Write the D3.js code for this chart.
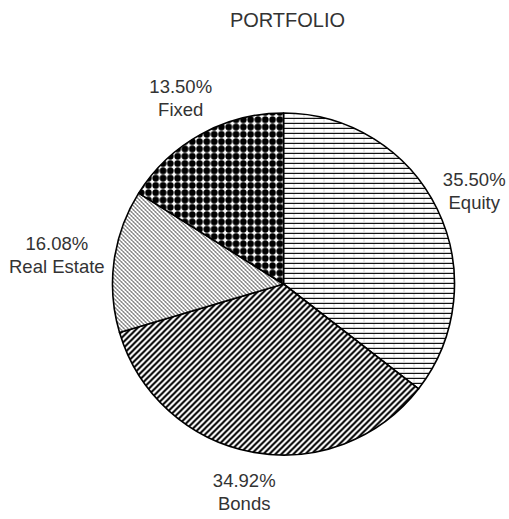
<!DOCTYPE html>
<html>
<head>
<meta charset="utf-8">
<script src="https://cdn.jsdelivr.net/npm/d3@7"></script>
<style>
  html, body { margin: 0; padding: 0; background: #fff; }
  svg { display: block; }
  text { font-family: "Liberation Sans", Arial, sans-serif; fill: #333; }
</style>
</head>
<body>
<svg id="chart" width="509" height="519"></svg>
<script>
const title = "PORTFOLIO";
const categories = ["Equity", "Bonds", "Real Estate", "Fixed"];
// slice sizes as drawn in the reference picture
const sliceValues = [35.50, 34.92, 13.50, 16.08];
// percentage texts as printed on the reference labels
const labelPercents = ["35.50%", "34.92%", "16.08%", "13.50%"];
const patternIds = ["pEquity", "pBonds", "pReal", "pFixed"];

const W = 509, H = 519;
const cx = 283.5, cy = 284, radius = 171;
const svg = d3.select("#chart");
const defs = svg.append("defs");

// Equity: horizontal lines with faint vertical grid
{
  const p = defs.append("pattern").attr("id", "pEquity").attr("patternUnits", "userSpaceOnUse")
    .attr("width", 10).attr("height", 5);
  p.append("rect").attr("width", 10).attr("height", 5).attr("fill", "#fff");
  p.append("line").attr("x1", 0.5).attr("x2", 0.5).attr("y1", 0).attr("y2", 5).attr("stroke", "#d0d0d0").attr("stroke-width", 1);
  p.append("line").attr("x1", 0).attr("x2", 10).attr("y1", 3.5).attr("y2", 3.5).attr("stroke", "#d4d4d4").attr("stroke-width", 1);
  p.append("line").attr("x1", 0).attr("x2", 10).attr("y1", 4.5).attr("y2", 4.5).attr("stroke", "#111").attr("stroke-width", 1.1);
}
// Bonds: thick "/" diagonals
{
  const p = defs.append("pattern").attr("id", "pBonds").attr("patternUnits", "userSpaceOnUse")
    .attr("width", 6).attr("height", 6);
  p.append("rect").attr("width", 6).attr("height", 6).attr("fill", "#fff");
  p.append("path").attr("d", "M-1,7 L7,-1 M-4,4 L4,-4 M2,10 L10,2")
    .attr("stroke", "#000").attr("stroke-width", 2.0);
}
// Real Estate: fine "\" grey diagonals
{
  const p = defs.append("pattern").attr("id", "pReal").attr("patternUnits", "userSpaceOnUse")
    .attr("width", 4).attr("height", 4);
  p.append("rect").attr("width", 4).attr("height", 4).attr("fill", "#fff");
  p.append("path").attr("d", "M0,4 L4,0").attr("stroke", "#d0d0d0").attr("stroke-width", 0.8);
  p.append("path").attr("d", "M-1,-1 L5,5 M-1,3 L1,5 M3,-1 L5,1")
    .attr("stroke", "#4a4a4a").attr("stroke-width", 1);
}
// Fixed: grid of black dots
{
  const p = defs.append("pattern").attr("id", "pFixed").attr("patternUnits", "userSpaceOnUse")
    .attr("width", 7.3).attr("height", 7.3);
  p.append("rect").attr("width", 7.3).attr("height", 7.3).attr("fill", "#fff");
  p.append("circle").attr("cx", 3.65).attr("cy", 3.65).attr("r", 3.35).attr("fill", "#000");
}

svg.append("text")
  .attr("x", 287.5).attr("y", 27)
  .attr("text-anchor", "middle")
  .style("font-size", "20px")
  .text(title);

const data = categories.map((c, i) => ({ name: c, value: sliceValues[i], label: labelPercents[i], pat: patternIds[i] }));
const pie = d3.pie().value(d => d.value).sort(null).startAngle(0).endAngle(2 * Math.PI);
const arcs = pie(data);
const arc = d3.arc().innerRadius(0).outerRadius(radius);

const g = svg.append("g").attr("transform", `translate(${cx},${cy})`);
g.selectAll("path.slice").data(arcs).enter().append("path")
  .attr("class", "slice")
  .attr("d", arc)
  .attr("fill", d => `url(#${d.data.pat})`)
  .attr("stroke", "#000")
  .attr("stroke-width", 1.6)
  .attr("stroke-linejoin", "round");

// labels
const labelRx = 181, labelRy = 190;
const fs = 18.5, lh = 23;
arcs.forEach(d => {
  const mid = (d.startAngle + d.endAngle) / 2;
  const sx = Math.sin(mid), sy = -Math.cos(mid);
  const t = g.append("text").attr("text-anchor", "middle").style("font-size", fs + "px");
  t.append("tspan").attr("x", 0).attr("dy", 0).text(d.data.label);
  t.append("tspan").attr("x", 0).attr("dy", lh).text(d.data.name);
  const bb = t.node().getBBox();
  const w = bb.width, h = bb.height;
  const ccx = sx * (labelRx + w / 2);
  const ccy = sy * (labelRy + h / 2);
  const dx = ccx - (bb.x + w / 2);
  const dy = ccy - (bb.y + h / 2);
  t.attr("transform", `translate(${dx},${dy})`);
});
</script>
</body>
</html>
